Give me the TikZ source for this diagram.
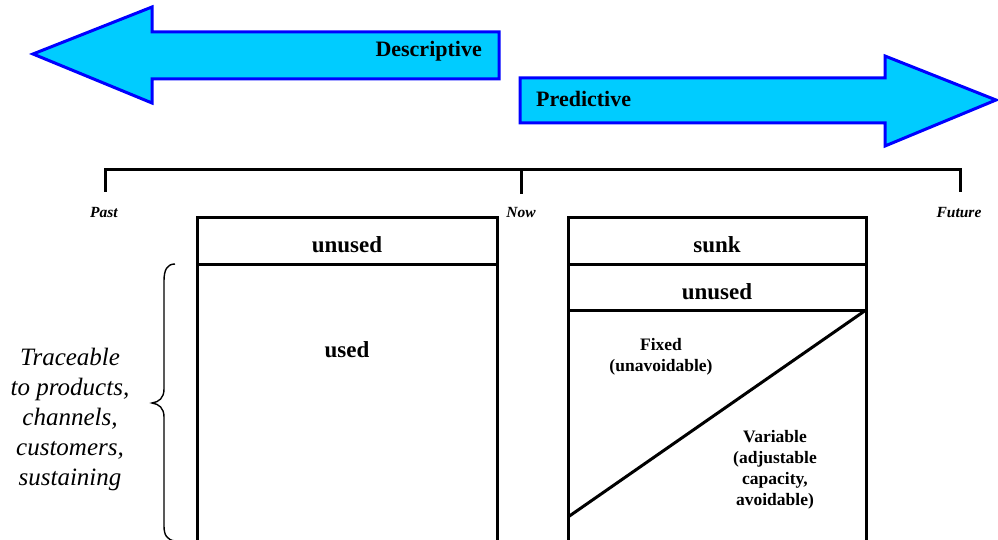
\documentclass[tikz,border=0pt]{standalone}
\usepackage{fontspec}
\setmainfont{Liberation Serif}
\definecolor{arrowfill}{RGB}{0,204,255}
\definecolor{arrowline}{RGB}{0,0,255}
\tikzset{
  bigarrow/.style={draw=arrowline, fill=arrowfill, line width=3pt, line join=miter},
  boxline/.style={draw=black, line width=3pt},
  tline/.style={draw=black, line width=3pt},
  arrowtext/.style={font=\bfseries\fontsize{22}{26}\selectfont, inner sep=0pt},
  boxtext/.style={font=\bfseries\fontsize{23}{27}\selectfont, inner sep=0pt},
  smalltext/.style={font=\bfseries\fontsize{17.5}{21}\selectfont, inner sep=0pt, align=center},
  timetext/.style={font=\bfseries\itshape\fontsize{15.5}{18}\selectfont, inner sep=0pt},
  sidetext/.style={font=\itshape\fontsize{25}{30}\selectfont, inner sep=0pt, align=center}
}
\begin{document}
\begin{tikzpicture}[x=1pt,y=-1pt]
\useasboundingbox (0,0) rectangle (998,540);
% arrows
\draw[bigarrow] (499,32) -- (152,32) -- (152,7) -- (33,54) -- (152,103) -- (152,79) -- (499,79) -- cycle;
\node[arrowtext, anchor=east] (desc) at (482,51) {Descriptive};
\draw[bigarrow] (520,78) -- (885,78) -- (885,56) -- (996,100) -- (885,146) -- (885,123) -- (520,123) -- cycle;
\node[arrowtext, anchor=west] (pred) at (536,99) {Predictive};
% timeline
\coordinate (tl) at (105,170);
\coordinate (tm) at (521,170);
\coordinate (tr) at (960,170);
\draw[tline, line join=miter] (105,192) -- (tl) -- (tr) -- (960,192);
\draw[tline] (tm) -- (521,194);
\node[timetext] (past) at (104,213) {Past};
\node[timetext] (now) at (521,213) {Now};
\node[timetext] (future) at (959,213) {Future};
% left box
\draw[boxline, line join=miter] (197,545) -- (197,217) -- (497,217) -- (497,545);
\draw[boxline] (197,264) -- (497,264);
\node[boxtext] (lunused) at (347,245) {unused};
\node[boxtext] (used) at (347,350) {used};
% right box
\draw[boxline, line join=miter] (568,545) -- (568,217) -- (866,217) -- (866,545);
\draw[boxline] (568,264) -- (866,264);
\draw[boxline] (568,310) -- (866,310);
\draw[boxline] (866,310) -- (568,517);
\node[boxtext] (sunk) at (717,245) {sunk};
\node[boxtext] (runused) at (717,292) {unused};
\node[smalltext] (fixed) at (661,357) {Fixed\\(unavoidable)};
\node[smalltext] (variable) at (775,470) {Variable\\(adjustable\\capacity,\\avoidable)};
% brace
\draw[line width=1.4pt] (175,264) .. controls (167,264) and (164,270) .. (164,281) -- (164,389)
  .. controls (164,398) and (159,402) .. (152,403)
  .. controls (159,404) and (164,408) .. (164,417) -- (164,526)
  .. controls (164,535) and (167,540) .. (175,541);
\node[sidetext] (trace) at (70,419) {Traceable\\to products,\\channels,\\customers,\\sustaining};
\end{tikzpicture}
\end{document}
